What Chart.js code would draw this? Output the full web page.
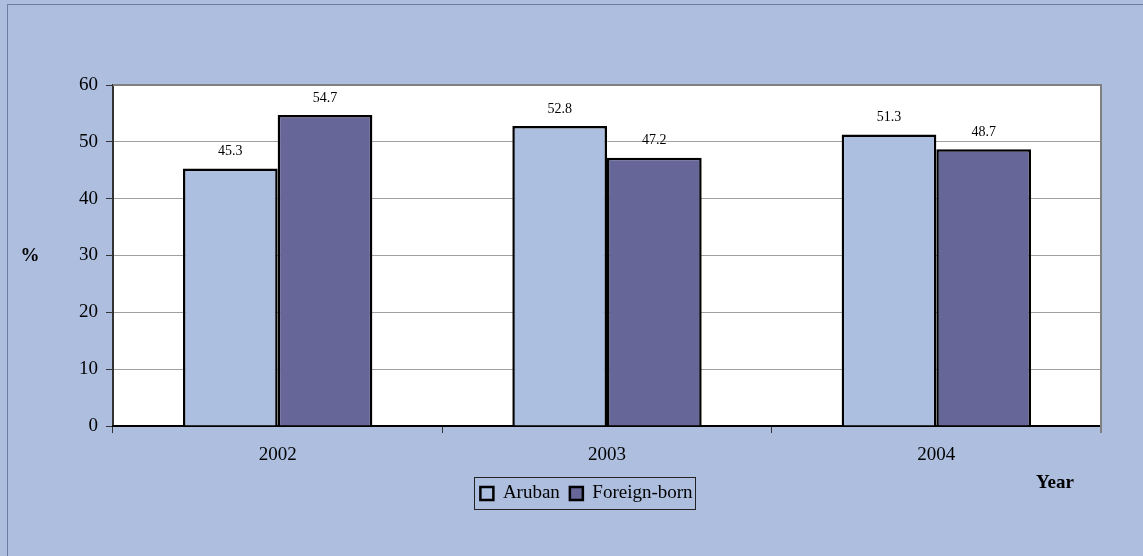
<!DOCTYPE html>
<html><head><meta charset="utf-8">
<script src="https://cdn.jsdelivr.net/npm/chart.js@4.4.1/dist/chart.umd.min.js"></script>
<style>
html,body{margin:0;padding:0;background:#adbedf;}
#wrap{position:relative;width:1143px;height:556px;overflow:hidden;background:#adbedf;}
#frame{position:absolute;left:7px;top:4px;width:1300px;height:700px;border:1.5px solid #6c7ca5;box-sizing:border-box;}
canvas{position:absolute;left:0;top:0;}
</style></head>
<body><div id="wrap"><div id="frame"></div><canvas id="c" width="1143" height="556"></canvas></div>
<script>
const categories = ['2002', '2003', '2004'];
const arubanValues = [45.3, 52.8, 51.3];
const foreignValues = [54.7, 47.2, 48.7];
const seriesNames = ['Aruban', 'Foreign-born'];
const yMin = 0, yMax = 60, yStep = 10;
const yAxisLabel = '%';
const xAxisLabel = 'Year';

const FONT = "'Times New Roman', 'Liberation Serif', serif";

const plotBg = {
  id: 'plotBg',
  beforeDraw(chart) {
    const {ctx, chartArea: a} = chart;
    ctx.save();
    ctx.fillStyle = '#ffffff';
    ctx.fillRect(a.left, a.top, a.right - a.left, a.bottom - a.top);
    ctx.restore();
  },
  beforeDatasetsDraw(chart) {
    const {ctx, chartArea: a} = chart;
    ctx.save();
    ctx.strokeStyle = '#808080';
    ctx.lineWidth = 2;
    ctx.beginPath();
    ctx.moveTo(a.left, a.top);
    ctx.lineTo(a.right, a.top);
    ctx.lineTo(a.right, a.bottom + 7);
    ctx.stroke();
    ctx.restore();
  }
};

const valueLabels = {
  id: 'valueLabels',
  afterDatasetsDraw(chart) {
    const {ctx} = chart;
    ctx.save();
    ctx.font = '14px ' + FONT;
    ctx.fillStyle = '#000';
    ctx.textAlign = 'center';
    ctx.textBaseline = 'bottom';
    chart.data.datasets.forEach((ds, i) => {
      const meta = chart.getDatasetMeta(i);
      meta.data.forEach((bar, j) => {
        ctx.fillText(ds.data[j].toFixed(1), bar.x, bar.y - 10);
      });
    });
    ctx.restore();
  }
};

const legendShift = {
  id: 'legendShift',
  afterLayout(chart) {
    if (chart.legend) {
      chart.legend.left += 36;
      chart.legend.right += 36;
    }
  }
};

const extraText = {
  id: 'extraText',
  afterDraw(chart) {
    const {ctx, chartArea: a} = chart;
    ctx.save();
    ctx.font = 'bold 19px ' + FONT;
    ctx.fillStyle = '#000';
    ctx.textAlign = 'center';
    ctx.textBaseline = 'middle';
    ctx.fillText(yAxisLabel, 30, (a.top + a.bottom) / 2 + 1);
    ctx.fillText(xAxisLabel, a.right - 46, a.bottom + 57);
    const boxes = chart.legend.legendHitBoxes;
    if (boxes && boxes.length) {
      let l = Infinity, r = -Infinity, t = Infinity, b = -Infinity;
      boxes.forEach(h => { l = Math.min(l, h.left); r = Math.max(r, h.left + h.width); t = Math.min(t, h.top); b = Math.max(b, h.top + h.height); });
      ctx.strokeStyle = '#222';
      ctx.lineWidth = 1;
      ctx.strokeRect(Math.round(l - 6) + 0.5, Math.round(t - 7) + 0.5, Math.round(r - l + 9), Math.round(b - t + 13));
    }
    ctx.restore();
  }
};

new Chart(document.getElementById('c'), {
  type: 'bar',
  data: {
    labels: categories,
    datasets: [
      { label: seriesNames[0], data: arubanValues, backgroundColor: '#adbfe0', borderColor: '#000', borderWidth: 2.5, borderSkipped: 'bottom' },
      { label: seriesNames[1], data: foreignValues, backgroundColor: '#666699', borderColor: '#000', borderWidth: 2.5, borderSkipped: 'bottom' }
    ]
  },
  options: {
    responsive: false,
    animation: false,
    devicePixelRatio: 1,
    datasets: { bar: { categoryPercentage: 0.575, barPercentage: 1.0 } },
    layout: { padding: { top: 85, right: 42, left: 0, bottom: 43 } },
    plugins: {
      legend: {
        position: 'bottom',
        labels: { font: { family: FONT, size: 19 }, color: '#000', boxWidth: 13, boxHeight: 13, padding: 10 }
      },
      tooltip: { enabled: false },
      title: { display: false }
    },
    scales: {
      y: {
        min: yMin, max: yMax,
        ticks: { stepSize: yStep, font: { family: FONT, size: 19 }, color: '#000', padding: 8 },
        grid: { color: '#a0a0a0', lineWidth: 1, tickLength: 7, tickColor: '#333' },
        border: { color: '#333', width: 2 },
        afterFit(scale) { scale.width = 113; }
      },
      x: {
        offset: true,
        ticks: { font: { family: FONT, size: 19 }, color: '#000', padding: 11 },
        grid: { offset: true, drawOnChartArea: false, tickLength: 7, tickColor: '#333' },
        border: { color: '#000', width: 2 },
        afterFit(scale) { scale.height = 48; }
      }
    }
  },
  plugins: [plotBg, valueLabels, legendShift, extraText]
});
</script>
</body></html>
